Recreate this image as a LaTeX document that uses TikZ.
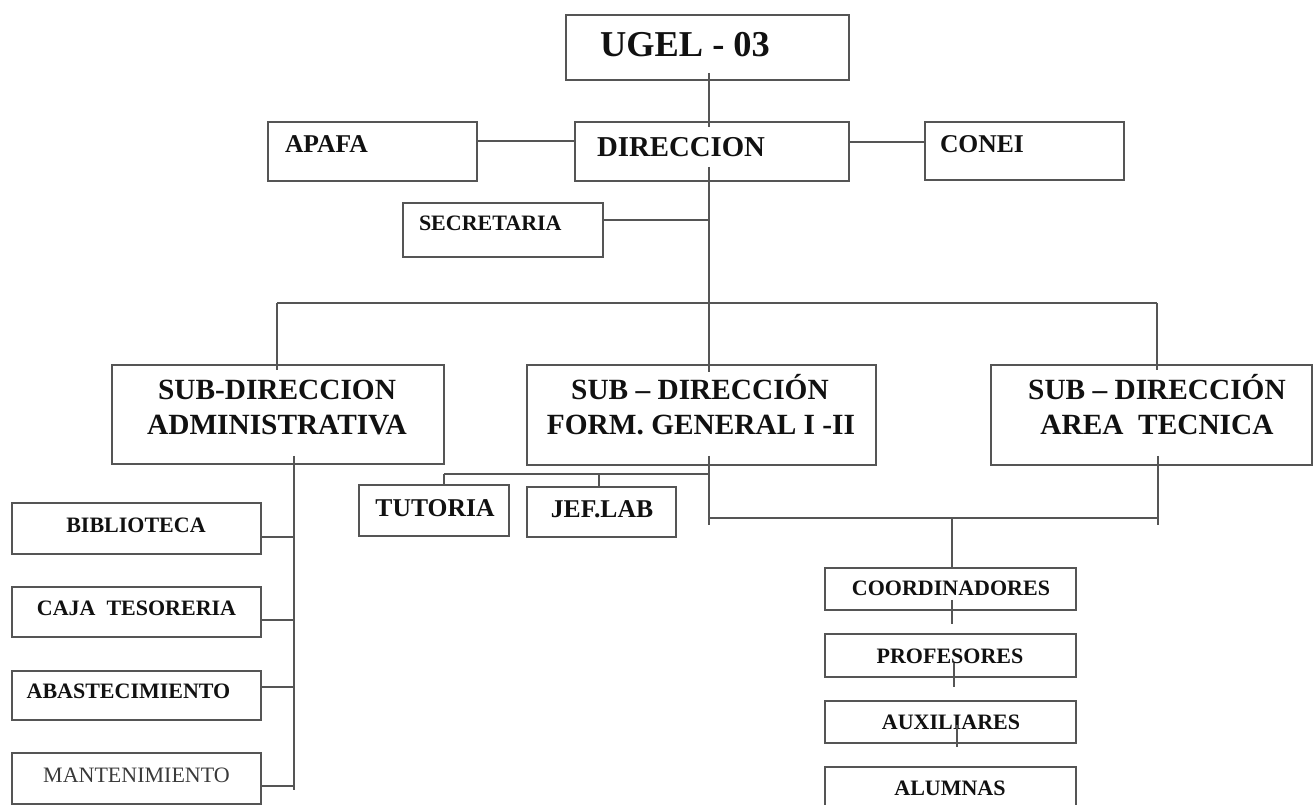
\documentclass[tikz,border=0pt]{standalone}
\usepackage{fontspec}
\setmainfont{Liberation Serif}
\usetikzlibrary{calc}
\definecolor{ln}{HTML}{555555}
\definecolor{tx}{HTML}{111111}
\definecolor{mt}{HTML}{3a3a3a}
\newcommand\orgbox[5]{\node[bx,anchor=north west,minimum width={(#4-#2)*0.75pt},minimum height={(#5-#3)*0.75pt}] (#1) at (#2,#3) {};}
\newcommand\fs[1]{\fontsize{#1}{#1}\selectfont}
\begin{document}
\begin{tikzpicture}[x=0.75pt,y=-0.75pt,
  conn/.style={draw=ln,line width=1.4pt},
  bx/.style={draw=ln,line width=1.5pt,inner sep=0pt,outer sep=0pt},
  lbl/.style={inner sep=0pt,outer sep=0pt,text=tx,font=\bfseries}]
\useasboundingbox (0,0) rectangle (1315,805);

% boxes
\orgbox{ugel}{566}{15}{849}{80}
\orgbox{dir}{575}{122}{849}{181}
\orgbox{apafa}{268}{122}{477}{181}
\orgbox{conei}{925}{122}{1124}{180}
\orgbox{secr}{403}{203}{603}{257}
\orgbox{adm}{112}{365}{444}{464}
\orgbox{form}{527}{365}{876}{465}
\orgbox{area}{991}{365}{1312}{465}
\orgbox{tut}{359}{485}{509}{536}
\orgbox{jef}{527}{487}{676}{537}
\orgbox{bib}{12}{503}{261}{554}
\orgbox{caja}{12}{587}{261}{637}
\orgbox{abas}{12}{671}{261}{720}
\orgbox{mant}{12}{753}{261}{804}
\orgbox{coord}{825}{568}{1076}{610}
\orgbox{prof}{825}{634}{1076}{677}
\orgbox{aux}{825}{701}{1076}{743}
\orgbox{alum}{825}{767}{1076}{812}

% texts
\node[lbl,anchor=base west,font=\bfseries\fs{27.3}] (tugel) at (600,57) {UGEL - 03};
\node[lbl,anchor=base west,font=\bfseries\fs{21.6}] (tdir) at (597,157) {DIRECCION};
\node[lbl,anchor=base west,font=\bfseries\fs{19.2}] (tapafa) at (285,153) {APAFA};
\node[lbl,anchor=base west,font=\bfseries\fs{19.2}] (tconei) at (940,153) {CONEI};
\node[lbl,anchor=base west,font=\bfseries\fs{16.5}] (tsecr) at (419,231) {SECRETARIA};
\node[lbl,anchor=base,font=\bfseries\fs{22}] (tadm1) at (277,400) {SUB-DIRECCION};
\node[lbl,anchor=base,font=\bfseries\fs{22}] (tadm2) at (277,435) {ADMINISTRATIVA};
\node[lbl,anchor=base,font=\bfseries\fs{22}] (tform1) at (700,400) {SUB – DIRECCIÓN};
\node[lbl,anchor=base,font=\bfseries\fs{22}] (tform2) at (701,435) {FORM. GENERAL I -II};
\node[lbl,anchor=base,font=\bfseries\fs{22}] (tarea1) at (1157,400) {SUB – DIRECCIÓN};
\node[lbl,anchor=base,font=\bfseries\fs{22}] (tarea2) at (1157,435) {AREA\ \ TECNICA};
\node[lbl,anchor=base,font=\bfseries\fs{19.2}] (ttut) at (435,517) {TUTORIA};
\node[lbl,anchor=base,font=\bfseries\fs{19.2}] (tjef) at (602,518) {JEF.LAB};
\node[lbl,anchor=base,font=\bfseries\fs{16.5}] (tbib) at (136,533) {BIBLIOTECA};
\node[lbl,anchor=base,font=\bfseries\fs{16.5}] (tcaja) at (136.5,615) {CAJA\ \ TESORERIA};
\node[lbl,anchor=base,font=\bfseries\fs{16.5}] (tabas) at (128.5,698) {ABASTECIMIENTO};
\node[lbl,anchor=base,font=\fs{16.5},text=mt] (tmant) at (136.5,782) {MANTENIMIENTO};
\node[lbl,anchor=base,font=\bfseries\fs{16.5}] (tcoord) at (951,596) {COORDINADORES};
\node[lbl,anchor=base,font=\bfseries\fs{16.5}] (tprof) at (950,663) {PROFESORES};
\node[lbl,anchor=base,font=\bfseries\fs{16.5}] (taux) at (951,729) {AUXILIARES};
\node[lbl,anchor=base,font=\bfseries\fs{16.5}] (talum) at (950,795) {ALUMNAS};

% helper coordinates
\coordinate (busL) at (277,303);
\coordinate (busR) at (1157,303);
\coordinate (trunkS) at (709,303);
\coordinate (admS) at (294,790);
\coordinate (formB) at (709,474);
\coordinate (lowJ) at (709,518);
\coordinate (lowR) at (1158,518);
\coordinate (lowM) at (952,518);

% connectors
\draw[conn] (709,73) -- (dir.north -| 709,0) -- ++(0,5);
\draw[conn] (apafa.east |- 0,141) -- (dir.west |- 0,141);
\draw[conn] (dir.east |- 0,142) -- (conei.west |- 0,142);
\draw[conn] (709,167) -- (form.north -| 709,0) -- ++(0,7);
\draw[conn] (secr.east |- 0,220) -- (709,220);
\draw[conn] (busL) -- (busR);
\draw[conn] (busL) -- (adm.north -| busL) -- ++(0,5);
\draw[conn] (busR) -- (area.north -| busR) -- ++(0,5);
% admin column
\draw[conn] (294,456) -- (admS);
\draw[conn] (bib.east |- 0,537) -- (294,537);
\draw[conn] (caja.east |- 0,620) -- (294,620);
\draw[conn] (abas.east |- 0,687) -- (294,687);
\draw[conn] (mant.east |- 0,786) -- (294,786);
% formacion branch
\draw[conn] (709,456) -- (709,525);
\draw[conn] (444,474) -- (formB);
\draw[conn] (444,474) -- (tut.north -| 444,0);
\draw[conn] (599,474) -- (jef.north -| 599,0);
% lower bus
\draw[conn] (lowJ) -- (lowR);
\draw[conn] (1158,456) -- (1158,525);
\draw[conn] (lowM) -- (coord.north -| lowM);
% small ticks in column
\draw[conn] (952,600) -- (952,624);
\draw[conn] (954,663) -- (954,687);
\draw[conn] (957,725) -- (957,747);
\end{tikzpicture}
\end{document}
